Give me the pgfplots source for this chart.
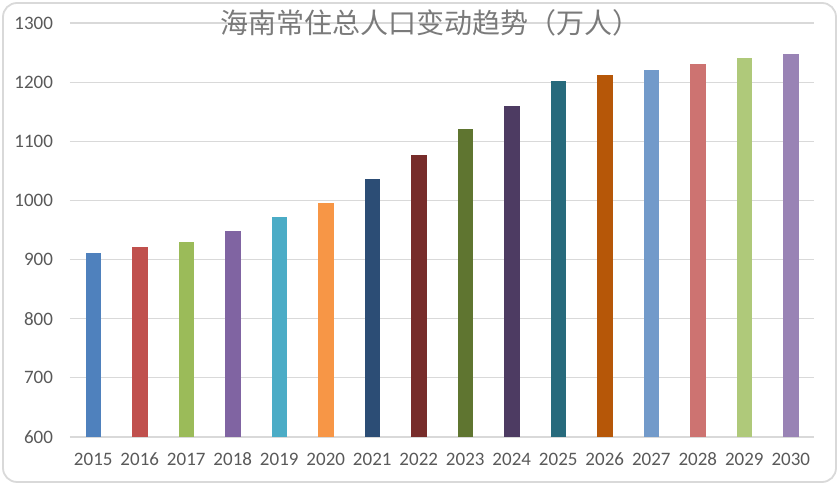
\documentclass[border=0pt]{standalone}
\usepackage{fontspec}
\setmainfont{Carlito}
\newfontfamily\cjk{Noto Sans CJK SC}
\usepackage{pgfplots}
\pgfplotsset{compat=1.18}
\definecolor{cA}{HTML}{4F81BD}
\definecolor{cB}{HTML}{C0504D}
\definecolor{cC}{HTML}{9BBB59}
\definecolor{cD}{HTML}{8064A2}
\definecolor{cE}{HTML}{4BACC6}
\definecolor{cF}{HTML}{F79646}
\definecolor{cG}{HTML}{2C4D75}
\definecolor{cH}{HTML}{772C2A}
\definecolor{cI}{HTML}{5F7530}
\definecolor{cJ}{HTML}{4D3B62}
\definecolor{cK}{HTML}{276A7C}
\definecolor{cL}{HTML}{B65708}
\definecolor{cM}{HTML}{729ACA}
\definecolor{cN}{HTML}{CD7371}
\definecolor{cO}{HTML}{AFC97A}
\definecolor{cP}{HTML}{9983B5}
\definecolor{gridc}{HTML}{D9D9D9}
\definecolor{txt}{HTML}{595959}
\begin{document}
\begin{tikzpicture}
\useasboundingbox (0,0) rectangle (419.5pt,242.5pt);
\draw[draw=gridc, line width=0.9pt, rounded corners=7pt] (1.5pt,1.5pt) rectangle (418pt,241pt);
\begin{axis}[
  at={(35pt,24pt)}, anchor=south west,
  scale only axis, width=372pt, height=207pt,
  xmin=-0.5, xmax=15.5, ymin=600, ymax=1300,
  ytick={600,700,...,1300},
  xtick={0,...,15},
  xticklabels={2015,2016,2017,2018,2019,2020,2021,2022,2023,2024,2025,2026,2027,2028,2029,2030},
  ymajorgrids, grid style={draw=gridc, line width=0.6pt},
  axis line style={draw=none},
  major tick length=0pt,
  tick label style={font=\fontsize{9.5}{11}\selectfont, text=txt},
  /pgf/number format/assume math mode=true,
  /pgf/number format/1000 sep={},
  yticklabel style={xshift=-5pt},
  xticklabel style={anchor=base, yshift=-14.5pt},
  ybar, bar width=7.75pt, bar shift=0pt,
  clip=false,
]
\addplot[fill=cA, draw=none] coordinates {(0,911)};
\addplot[fill=cB, draw=none] coordinates {(1,922)};
\addplot[fill=cC, draw=none] coordinates {(2,930)};
\addplot[fill=cD, draw=none] coordinates {(3,949)};
\addplot[fill=cE, draw=none] coordinates {(4,972)};
\addplot[fill=cF, draw=none] coordinates {(5,996)};
\addplot[fill=cG, draw=none] coordinates {(6,1037)};
\addplot[fill=cH, draw=none] coordinates {(7,1077)};
\addplot[fill=cI, draw=none] coordinates {(8,1120)};
\addplot[fill=cJ, draw=none] coordinates {(9,1160)};
\addplot[fill=cK, draw=none] coordinates {(10,1202)};
\addplot[fill=cL, draw=none] coordinates {(11,1212)};
\addplot[fill=cM, draw=none] coordinates {(12,1221)};
\addplot[fill=cN, draw=none] coordinates {(13,1231)};
\addplot[fill=cO, draw=none] coordinates {(14,1240)};
\addplot[fill=cP, draw=none] coordinates {(15,1248)};
\end{axis}
\node[text=txt!80, font=\cjk\fontsize{14}{16}\selectfont, inner sep=0pt] at (215pt,231pt) {海南常住总人口变动趋势（万人）};
\end{tikzpicture}
\end{document}
